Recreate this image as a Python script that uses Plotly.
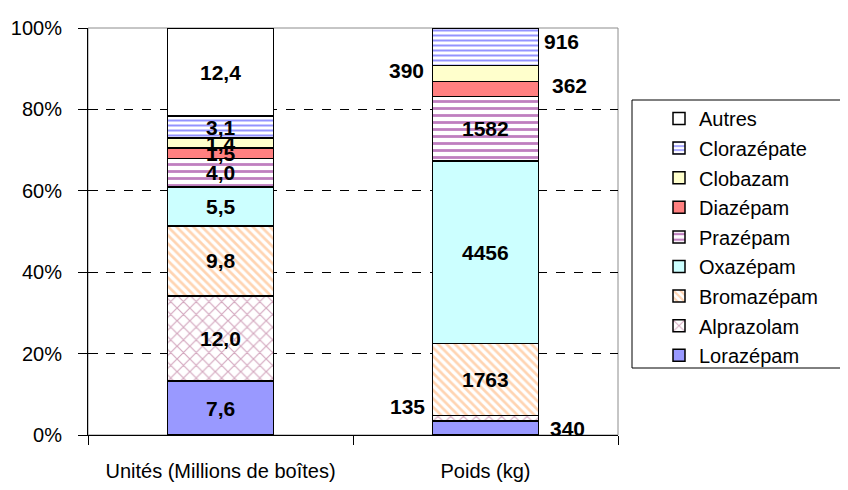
import plotly.graph_objects as go

# data, bottom of the stack first
categories = ["Unités (Millions de boîtes)", "Poids (kg)"]
molecules = ["Lorazépam", "Alprazolam", "Bromazépam", "Oxazépam", "Prazépam",
             "Diazépam", "Clobazam", "Clorazépate", "Autres"]
unites = [7.6, 12.0, 9.8, 5.5, 4.0, 1.5, 1.4, 3.1, 12.4]
poids = [340, 135, 1763, 4456, 1582, 362, 390, 916, 0]
y_ticks = [0, 20, 40, 60, 80, 100]

# styles
fills = {
    "Lorazépam": dict(color="#9999FF"),
    "Alprazolam": dict(color="white", pattern=dict(shape="x", fgcolor="#A8507E", size=9, solidity=0.25)),
    "Bromazépam": dict(color="white", pattern=dict(shape="\\", fgcolor="#FFAA66", size=6, solidity=0.45)),
    "Oxazépam": dict(color="#CCFFFF"),
    "Prazépam": dict(color="white", pattern=dict(shape="-", fgcolor="#800080", size=7, solidity=0.4)),
    "Diazépam": dict(color="#FF8080"),
    "Clobazam": dict(color="#FFFFCC"),
    "Clorazépate": dict(color="white", pattern=dict(shape="-", fgcolor="#2828FF", size=5, solidity=0.4)),
    "Autres": dict(color="white"),
}
# offsets of labels placed beside the Poids bar (px)
poids_offsets = {"Lorazépam": (82, 0), "Alprazolam": (-78, 12), "Diazépam": (84, 3),
                 "Clobazam": (-79, 3), "Clorazépate": (76, 5)}

label_font = dict(family="Liberation Sans, Arial, sans-serif", size=21, color="black", weight="bold")
base_font = "Liberation Sans, Arial, sans-serif"

fig = go.Figure()
for i, name in enumerate(molecules):
    m = dict(fills[name])
    m["line"] = dict(color="black", width=1.5)
    fig.add_trace(go.Bar(x=categories, y=[unites[i], poids[i]], name=name,
                         marker=m, legendgroup=name, legendrank=100 - i, width=0.4,
                         hoverinfo="name+y"))

# invisible trace for the inner tick marks
fig.add_trace(go.Scatter(x=[categories[0]], y=[None], yaxis="y2", showlegend=False,
                         hoverinfo="skip"))

annotations = []
for values, cat, is_units in [(unites, categories[0], True), (poids, categories[1], False)]:
    total = sum(values)
    cum = 0
    for name, v in zip(molecules, values):
        mid = (cum + v / 2) / total * 100
        cum += v
        if v == 0:
            continue
        txt = ("%.1f" % v).replace(".", ",") if is_units else str(v)
        dx, dy = (0, 0) if is_units else poids_offsets.get(name, (0, 0))
        annotations.append(dict(x=cat, y=mid, text=txt, showarrow=False, xshift=dx, yshift=dy,
                                font=label_font))

# the page puts the figure 8px in from the top-left corner
fig.update_layout(
    width=840, height=482,
    margin=dict(l=80, r=230, t=20, b=55),
    barmode="stack", barnorm="percent",
    paper_bgcolor="white", plot_bgcolor="white",
    font=dict(family=base_font, size=20, color="black"),
    annotations=annotations,
    xaxis=dict(type="category", tickson="boundaries", ticks="outside", ticklen=9,
               tickcolor="black", showline=True, linecolor="black", linewidth=1,
               ticklabelstandoff=18, tickfont=dict(size=20), automargin=False),
    yaxis=dict(range=[0, 100], tickvals=y_ticks, ticktext=["%d%%" % t for t in y_ticks],
               ticks="outside", ticklen=9,
               tickcolor="black", showline=True, linecolor="black", linewidth=1,
               showgrid=True, gridcolor="black", griddash="dash", gridwidth=1,
               zeroline=False, tickfont=dict(size=20), ticklabelstandoff=12, automargin=False),
    yaxis2=dict(range=[0, 100], tickvals=y_ticks, overlaying="y", side="left", anchor="x",
                ticks="inside", ticklen=10, tickcolor="black", showticklabels=False,
                showgrid=False, showline=False, zeroline=False, automargin=False),
    legend=dict(x=(659 - 88) / 530, xanchor="left", y=(435 - 99) / 407, yanchor="top",
                traceorder="grouped", tracegroupgap=0.6, borderwidth=0,
                bgcolor="rgba(0,0,0,0)", font=dict(size=20)),
    shapes=[
        dict(type="rect", xref="paper", yref="paper", x0=0, x1=1, y0=0, y1=1,
             line=dict(color="#8C8C8C", width=1), layer="between"),
        dict(type="rect", xref="paper", yref="paper", x0=(632 - 88) / 530, x1=(842 - 88) / 530,
             y0=(435 - 368) / 407, y1=(435 - 100) / 407, line=dict(color="black", width=1)),
    ],
    showlegend=True,
)

fig.write_html("out.html")
